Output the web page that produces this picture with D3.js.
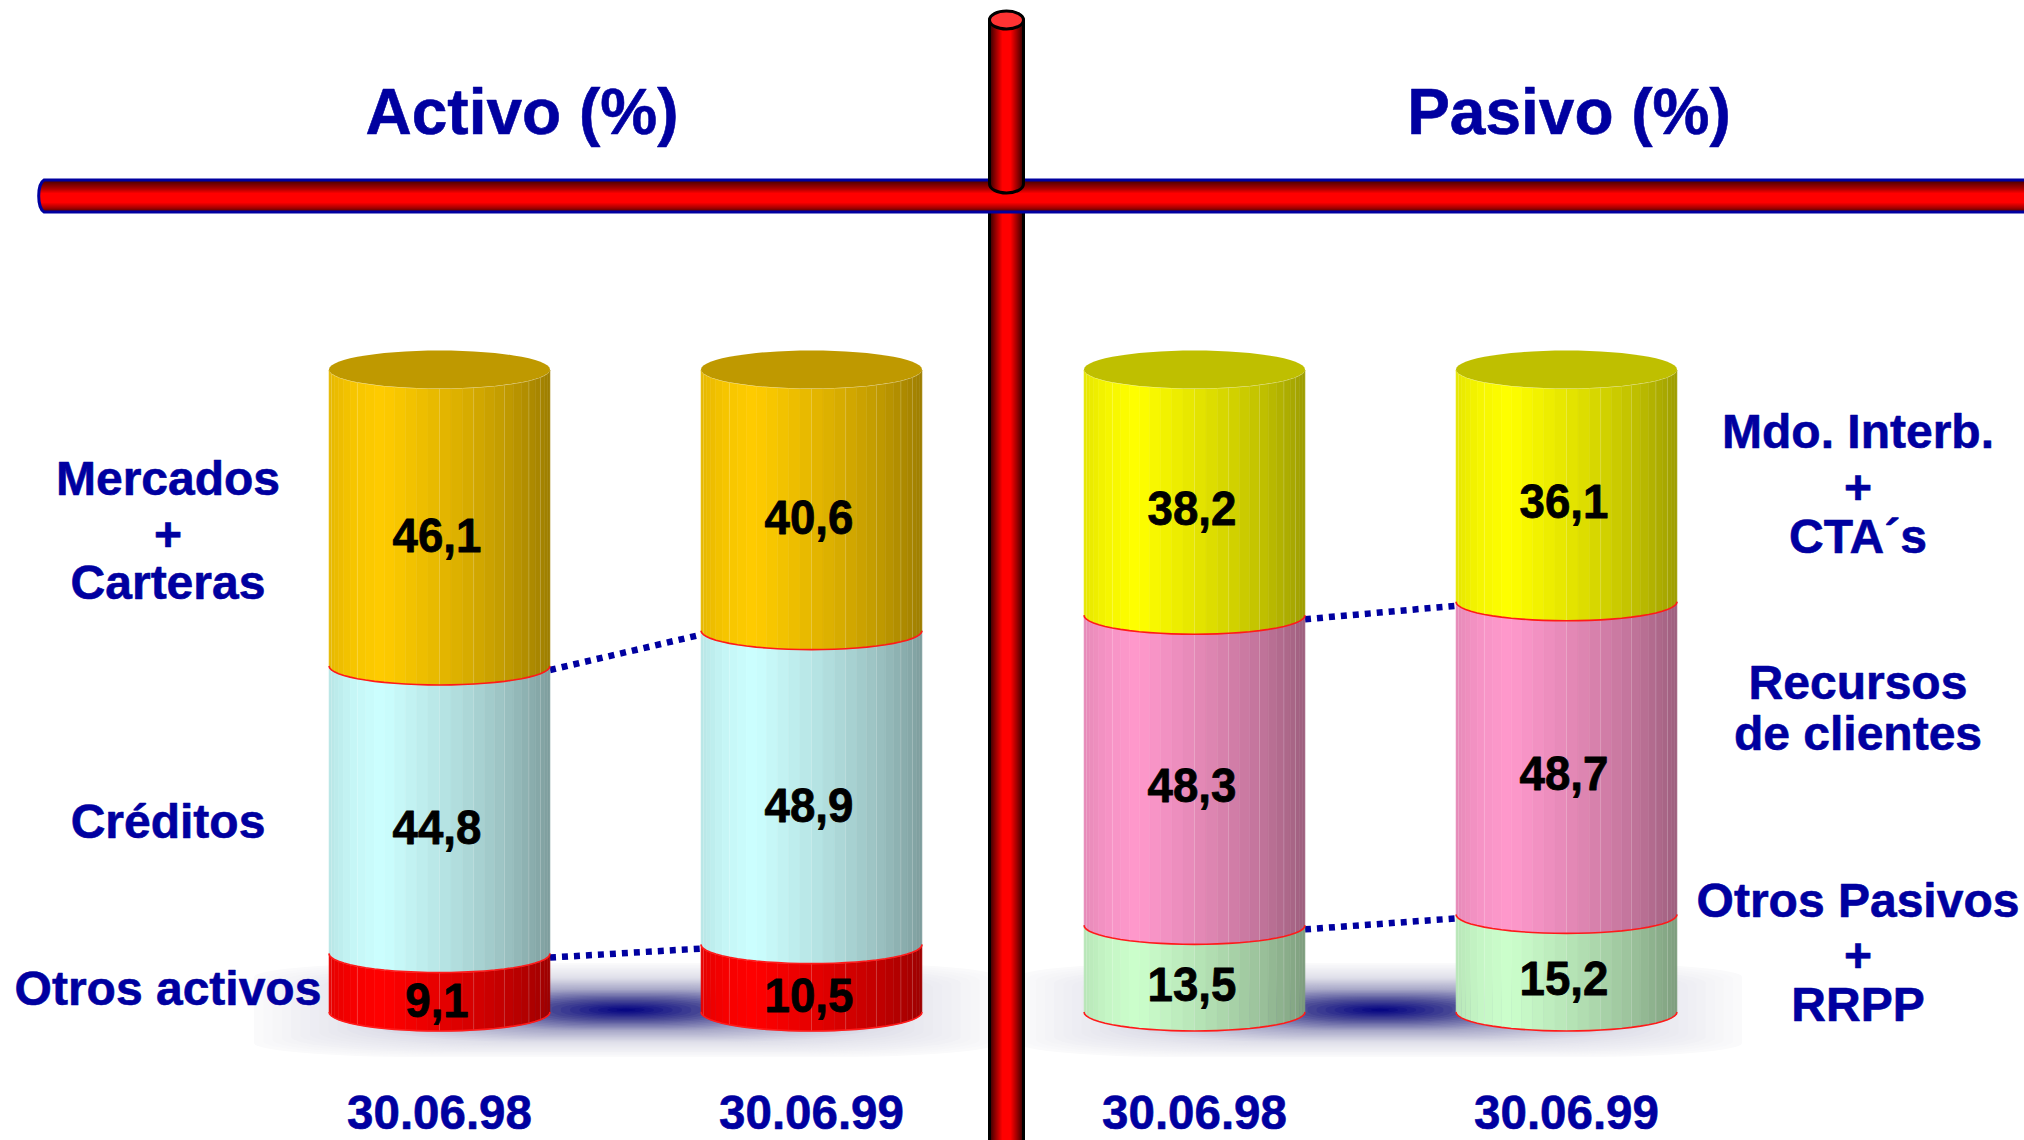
<!DOCTYPE html>
<html><head><meta charset="utf-8">
<script src="https://cdn.jsdelivr.net/npm/d3@7"></script>
<style>html,body{margin:0;padding:0;background:#fff}svg{display:block}text{font-family:"Liberation Sans",Arial,sans-serif;font-weight:700}</style>
</head><body><svg id="c" width="2024" height="1140"></svg>
<script>
// ---- data (bottom of the stack first) ----
const periods = ["30.06.98", "30.06.99"];
const activoOtros = [9.1, 10.5];
const activoCreditos = [44.8, 48.9];
const activoMercados = [46.1, 40.6];
const pasivoOtros = [13.5, 15.2];
const pasivoRecursos = [48.3, 48.7];
const pasivoMdo = [38.2, 36.1];
const activoColors = ["#FF0000", "#CCFFFF", "#FFCC00"];
const pasivoColors = ["#CCFFCC", "#FF99CC", "#FFFF00"];
const activoLabels = [["Otros activos"], ["Créditos"], ["Mercados", "+", "Carteras"]];
const pasivoLabels = [["Otros Pasivos", "+", "RRPP"], ["Recursos", "de clientes"], ["Mdo. Interb.", "+", "CTA´s"]];

const svg = d3.select("#c");
const NAVY = "#0000A0";
const defs = svg.append("defs");
const y = d3.scaleLinear([0, 100], [1012, 370]);
const RX = 110.5, RY = 19, FACETS = 30;
const shade = d3.scaleLinear([0, .1, .24, .55, .8, 1], [.9, .96, 1, .88, .76, .62]);
const highlights = new Set([2, 7, 15, 18, 21, 24, 26]);

function floorGlow(cx, halfW) {
  const g = svg.append("g");
  const col = d3.scaleLinear([0, .08, .22, .45, .7, 1], ["#000080", "#181888", "#4a4a96", "#a8a8c8", "#e0e0ea", "#fafafb"]);
  d3.range(40, 0, -1).forEach(i => {
    const t = i / 40, w = halfW * t, h = 47 * t;
    g.append("rect").attr("x", cx - w).attr("y", 1010 - h).attr("width", 2 * w).attr("height", 2 * h)
      .attr("rx", w * (1 - t * .55)).attr("ry", h * (1 - t * .7))
      .attr("fill", col(t));
  });
}

function cylinder(cx, stack, colors) {
  const g = svg.append("g");
  const a = d3.range(FACETS + 1).map(i => -Math.PI / 2 + Math.PI * i / FACETS);
  const px = th => cx + RX * Math.sin(th);
  const py = (th, v) => y(v) + RY * Math.cos(th);
  let cum = d3.cumsum(stack);
  stack.forEach((v, k) => {
    const lo = k ? cum[k - 1] : 0, hi = cum[k], base = d3.color(colors[k]);
    const sg = g.append("g");
    for (let i = 0; i < FACETS; i++) {
      const t0 = a[i], t1 = a[i + 1], f = ((px(t0) + px(t1)) / 2 - (cx - RX)) / (2 * RX);
      const c = d3.rgb(base.r * shade(f), base.g * shade(f), base.b * shade(f));
      sg.append("path").attr("fill", c).attr("stroke", c).attr("stroke-width", .5)
        .attr("d", `M${px(t0)},${py(t0, hi)}L${px(t1)},${py(t1, hi)}L${px(t1)},${py(t1, lo)}L${px(t0)},${py(t0, lo)}Z`);
      if (highlights.has(i))
        sg.append("line").attr("x1", px(t0)).attr("x2", px(t0)).attr("y1", py(t0, hi)).attr("y2", py(t0, lo))
          .attr("stroke", "#fff").attr("stroke-opacity", .18).attr("stroke-width", 1);
    }
    sg.append("path").attr("fill", "none").attr("stroke", "#FF1A1A").attr("stroke-width", 1.6)
      .attr("d", d3.line().x(px).y(t => py(t, lo))(a));
  });
  // top cap, a darker shade of the top segment
  const top = d3.color(colors[stack.length - 1]);
  const capPts = d3.range(FACETS * 2).map(i => {
    const th = Math.PI * 2 * i / (FACETS * 2);
    return [cx + RX * Math.sin(th), y(100) + RY * Math.cos(th) - .5];
  });
  g.append("path").attr("fill", d3.rgb(top.r * .75, top.g * .75, top.b * .75))
    .attr("d", d3.line()(capPts) + "Z");
}

function boldText(sel, col, w) {
  return sel.attr("fill", col).attr("stroke", col).attr("stroke-width", w).attr("stroke-linejoin", "round");
}

function panel(title, titleX, xRange, stacks, colors, labels, labelX, glowCx, glowW, valueLift) {
  const x = d3.scalePoint().domain(periods).range(xRange);
  floorGlow(glowCx, glowW);
  // dotted connectors between equal boundaries
  [0, 1].forEach(k => {
    const v = periods.map((p, i) => d3.sum(stacks.slice(0, k + 1), s => s[i]));
    svg.append("line").attr("x1", x(periods[0]) + RX).attr("x2", x(periods[1]) - RX)
      .attr("y1", y(v[0]) + 4).attr("y2", y(v[1]) + 4)
      .attr("stroke", NAVY).attr("stroke-width", 6.5).attr("stroke-dasharray", "6 6");
  });
  periods.forEach((p, i) => {
    const stack = stacks.map(s => s[i]);
    cylinder(x(p), stack, colors);
    const cum = d3.cumsum(stack);
    stack.forEach((v, k) => {
      const lo = k ? cum[k - 1] : 0;
      const t = svg.append("text").attr("x", x(p) - 2.5).attr("y", (y(lo) + y(cum[k])) / 2 + 36 - valueLift)
        .attr("text-anchor", "middle").attr("font-size", 48)
        .text(String(v.toFixed(1)).replace(".", ","));
      boldText(t, "#000", .8);
      t.attr("textLength", t.node().getComputedTextLength() * .95).attr("lengthAdjust", "spacingAndGlyphs");
    });
    boldText(svg.append("text").attr("x", x(p)).attr("y", 1129).attr("text-anchor", "middle")
      .attr("font-size", 47.5).text(p), NAVY, .6);
  });
  boldText(svg.append("text").attr("x", titleX).attr("y", 134).attr("text-anchor", "middle")
    .attr("font-size", 64).text(title), NAVY, .6);
  labels.forEach(l => {
    l.lines.forEach((t, j) => boldText(svg.append("text").attr("x", labelX).attr("y", l.ys[j] + 17)
      .attr("text-anchor", "middle").attr("font-size", 48).text(t), NAVY, .6));
  });
}

panel("Activo (%)", 522, [439.5, 811.5], [activoOtros, activoCreditos, activoMercados], activoColors,
  [{lines: activoLabels[2], ys: [478, 534, 582]}, {lines: activoLabels[1], ys: [821]}, {lines: activoLabels[0], ys: [988]}],
  168, 626, 372, 2);
panel("Pasivo (%)", 1569, [1194.5, 1566.5], [pasivoOtros, pasivoRecursos, pasivoMdo], pasivoColors,
  [{lines: pasivoLabels[2], ys: [431, 487, 536]}, {lines: pasivoLabels[1], ys: [682, 733]}, {lines: pasivoLabels[0], ys: [900, 955, 1004]}],
  1858, 1380, 362, 4);

// ---- pipes ----
const gv = defs.append("linearGradient").attr("id", "gv");
[[0, "#300000"], [.2, "#a00000"], [.38, "#FF0000"], [.62, "#FF0000"], [.8, "#a00000"], [1, "#300000"]]
  .forEach(s => gv.append("stop").attr("offset", s[0]).attr("stop-color", s[1]));
const gh = defs.append("linearGradient").attr("id", "gh").attr("x2", 0).attr("y2", 1);
[[0, "#400000"], [.28, "#b00000"], [.42, "#FF0000"], [.7, "#FF0000"], [.88, "#a00000"], [1, "#400000"]]
  .forEach(s => gh.append("stop").attr("offset", s[0]).attr("stop-color", s[1]));

const L = 989.5, R = 1023.5, C = (L + R) / 2, ER = 9;
svg.append("rect").attr("x", L).attr("y", 205).attr("width", R - L).attr("height", 945)
  .attr("fill", "url(#gv)").attr("stroke", "#000").attr("stroke-width", 3);
svg.append("path").attr("fill", "url(#gh)").attr("stroke", NAVY).attr("stroke-width", 3)
  .attr("d", "M2040,180H44A7,16.5 0 0 0 44,212H2040");
svg.append("path").attr("fill", "url(#gv)").attr("stroke", "#000").attr("stroke-width", 3)
  .attr("d", `M${L},20V184A${(R - L) / 2},${ER} 0 0 0 ${R},184V20Z`);
svg.append("ellipse").attr("cx", C).attr("cy", 20).attr("rx", (R - L) / 2).attr("ry", ER)
  .attr("fill", "#FF3333").attr("stroke", "#000").attr("stroke-width", 3);
</script></body></html>
